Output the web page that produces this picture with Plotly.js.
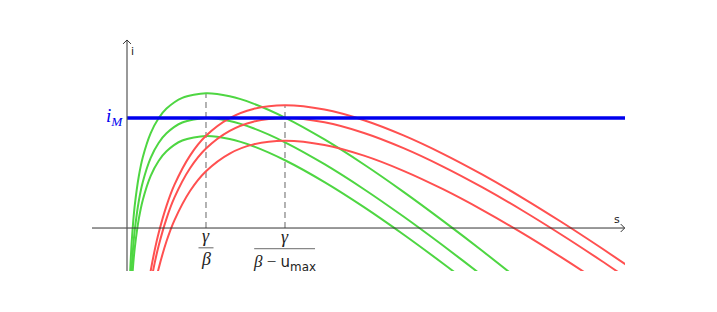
<!DOCTYPE html>
<html>
<head>
<meta charset="utf-8">
<script src="https://cdn.plot.ly/plotly-3.0.1.min.js"></script>
<style>html,body{margin:0;padding:0;background:#fff;}#chart{width:717px;height:312px;}</style>
</head>
<body>
<div id="chart"></div>
<script>
// Susceptible s (γ/β = 1 unit) and infected i values
const sGreen = [0.03, 0.04, 0.05, 0.06, 0.08, 0.1, 0.15, 0.2, 0.3, 0.4, 0.5, 0.7, 1.0, 1.3, 1.6, 2.0, 2.5, 3.0, 3.5, 4.0, 4.5, 5.0];
const iGreenHigh = [-0.832, -0.554, -0.341, -0.168, 0.099, 0.302, 0.658, 0.896, 1.201, 1.389, 1.512, 1.648, 1.705, 1.667, 1.575, 1.398, 1.121, 0.804, 0.458, 0.091, -0.291, -0.686];
const iGreenMid  = [-1.145, -0.867, -0.654, -0.481, -0.214, -0.011, 0.345, 0.583, 0.888, 1.076, 1.199, 1.335, 1.392, 1.354, 1.262, 1.085, 0.808, 0.491, 0.145, -0.222, -0.604, -0.999];
const iGreenLow  = [-1.372, -1.094, -0.881, -0.708, -0.441, -0.238, 0.118, 0.356, 0.661, 0.849, 0.972, 1.108, 1.165, 1.127, 1.035, 0.858, 0.581, 0.264, -0.082, -0.449, -0.831, -1.226];

const sRed = [0.2, 0.25, 0.3, 0.35, 0.4, 0.5, 0.6, 0.8, 1.0, 1.3, 1.6, 2.0, 2.5, 3.0, 3.5, 4.0, 4.5, 5.0, 5.5, 6.0, 6.5];
const iRedHigh = [-1.252, -0.856, -0.541, -0.283, -0.066, 0.280, 0.545, 0.920, 1.167, 1.391, 1.507, 1.553, 1.499, 1.364, 1.172, 0.939, 0.675, 0.386, 0.076, -0.250, -0.590];
const iRedMid  = [-1.413, -1.017, -0.702, -0.444, -0.227, 0.119, 0.384, 0.759, 1.006, 1.230, 1.346, 1.392, 1.338, 1.203, 1.011, 0.778, 0.514, 0.225, -0.085, -0.411, -0.751];
const iRedLow  = [-1.700, -1.304, -0.989, -0.731, -0.514, -0.168, 0.097, 0.472, 0.719, 0.943, 1.059, 1.105, 1.051, 0.916, 0.724, 0.491, 0.227, -0.062, -0.372, -0.698, -1.038];

const iM = 1.392;
const peakS = [1, 2];            // γ/β and γ/(β − u_max)
const peakTop = [1.705, 1.553];
const tickLabels = ['γ', 'β', 'γ', 'β − u<sub>max</sub>'];

const xMin = -0.443, xMax = 6.304, yMin = -0.544, yMax = 2.405;
const GREEN = 'rgb(78,214,66)';
const RED = 'rgb(255,80,80)';
const AX = '#555';
const SERIF = 'Liberation Serif, DejaVu Serif, serif';
const SANS = 'DejaVu Sans, Lato, sans-serif';

const traces = [];
peakS.forEach((s, k) => {
  traces.push({x: [s, s], y: [0, peakTop[k]], mode: 'lines', line: {color: '#9a9a9a', width: 1.5, dash: '6px,4px'}, hoverinfo: 'skip'});
});
[iGreenHigh, iGreenMid, iGreenLow].forEach(v => traces.push({x: sGreen, y: v, mode: 'lines', line: {color: GREEN, width: 2, shape: 'spline', smoothing: 0.8}, hoverinfo: 'skip'}));
[iRedHigh, iRedMid, iRedLow].forEach(v => traces.push({x: sRed, y: v, mode: 'lines', line: {color: RED, width: 2, shape: 'spline', smoothing: 0.8}, hoverinfo: 'skip'}));
traces.push({x: [0, xMax], y: [iM, iM], mode: 'lines', line: {color: '#0000ee', width: 3.5}, hoverinfo: 'skip'});

const ah = 0.05;
const shapes = [
  {type: 'line', x0: xMin, x1: 6.30, y0: 0, y1: 0, line: {color: '#333', width: 1}},
  {type: 'line', x0: 0, x1: 0, y0: yMin, y1: 2.38, line: {color: AX, width: 1.2}},
  {type: 'path', path: `M ${6.30-ah},${ah} L 6.30,0 L ${6.30-ah},${-ah}`, line: {color: '#333', width: 1}},
  {type: 'path', path: `M ${-ah},${2.38-ah} L 0,2.38 L ${ah},${2.38-ah}`, line: {color: '#333', width: 1}},
  {type: 'line', x0: 0.905, x1: 1.095, y0: -0.25, y1: -0.25, line: {color: '#888', width: 1.3}},
  {type: 'line', x0: 1.61, x1: 2.38, y0: -0.26, y1: -0.26, line: {color: '#888', width: 1.3}}
];

const annotations = [
  {x: 0, y: 2.38, xref: 'x', yref: 'y', text: 'i', showarrow: false, xanchor: 'left', yanchor: 'top', xshift: 2, yshift: -3, font: {family: SANS, size: 11, color: '#222'}},
  {x: 6.30, y: 0, xref: 'x', yref: 'y', text: 's', showarrow: false, xanchor: 'right', yanchor: 'bottom', xshift: -3, yshift: 0, font: {family: SANS, size: 11, color: '#222'}},
  {x: 0, y: iM, xref: 'x', yref: 'y', text: '<i>i</i><sub><i>M</i></sub>', showarrow: false, xanchor: 'right', yanchor: 'middle', xshift: -2, yshift: 1, font: {family: SERIF, size: 19, color: '#0000ee'}},
  {x: peakS[0], y: 0, xref: 'x', yref: 'y', text: '<i>' + tickLabels[0] + '</i>', showarrow: false, xanchor: 'center', yanchor: 'middle', yshift: -8, font: {family: SERIF, size: 18, color: '#222'}},
  {x: peakS[0], y: 0, xref: 'x', yref: 'y', text: '<i>' + tickLabels[1] + '</i>', showarrow: false, xanchor: 'center', yanchor: 'middle', yshift: -31, font: {family: SERIF, size: 18, color: '#222'}},
  {x: peakS[1], y: 0, xref: 'x', yref: 'y', text: '<i>' + tickLabels[2] + '</i>', showarrow: false, xanchor: 'center', yanchor: 'middle', yshift: -9, font: {family: SERIF, size: 18, color: '#222'}},
  {x: peakS[1], y: 0, xref: 'x', yref: 'y', text: '<i>β</i> − <span style="font-family:DejaVu Sans;font-size:15px">u</span><sub><span style="font-family:DejaVu Sans">max</span></sub>', showarrow: false, xanchor: 'center', yanchor: 'middle', yshift: -35, font: {family: SERIF, size: 17, color: '#222'}}
];

const layout = {
  width: 717, height: 312,
  margin: {l: 92, r: 92, t: 38, b: 41, pad: 0},
  paper_bgcolor: '#fff', plot_bgcolor: '#fff',
  showlegend: false,
  xaxis: {range: [xMin, xMax], showgrid: false, zeroline: false, showticklabels: false, ticks: '', showline: false, fixedrange: true},
  yaxis: {range: [yMin, yMax], showgrid: false, zeroline: false, showticklabels: false, ticks: '', showline: false, fixedrange: true},
  shapes: shapes,
  annotations: annotations
};

Plotly.newPlot('chart', traces, layout, {displayModeBar: false, staticPlot: true});
</script>
</body>
</html>
